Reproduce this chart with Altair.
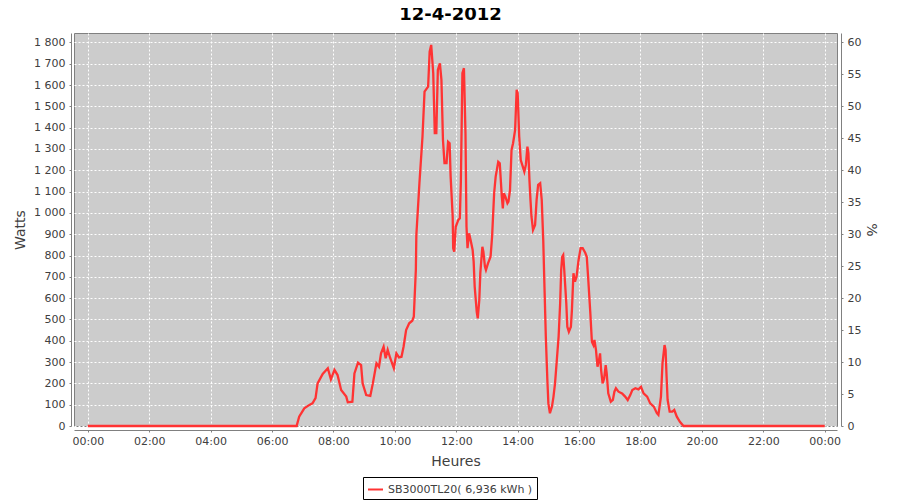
import altair as alt
import pandas as pd

times = ["00:00", "06:48", "06:53", "07:03", "07:13", "07:19", "07:25", "07:29", "07:39", "07:49",
         "07:55", "08:02", "08:08", "08:15", "08:25", "08:28", "08:37", "08:41", "08:48", "08:54",
         "08:57", "09:04", "09:12", "09:17", "09:24", "09:29", "09:33", "09:38", "09:42", "09:46",
         "09:51", "09:58", "10:03", "10:08", "10:13", "10:17", "10:22", "10:28", "10:34", "10:37",
         "10:41", "10:42", "10:48", "10:54", "10:58", "11:05", "11:08", "11:11", "11:15", "11:18",
         "11:21", "11:24", "11:28", "11:31", "11:34", "11:37", "11:41", "11:44", "11:47", "11:49",
         "11:53", "11:54", "11:56", "11:59", "12:04", "12:07", "12:09", "12:12", "12:15", "12:18",
         "12:20", "12:22", "12:25", "12:28", "12:32", "12:34", "12:36", "12:40", "12:42", "12:45",
         "12:47", "12:51", "12:53", "12:56", "12:58", "13:02", "13:07", "13:10", "13:14", "13:17",
         "13:22", "13:25", "13:29", "13:31", "13:33", "13:36", "13:40", "13:42", "13:45", "13:48",
         "13:51", "13:55", "13:58", "14:00", "14:03", "14:06", "14:10", "14:13", "14:16", "14:19",
         "14:21", "14:23", "14:25", "14:27", "14:30", "14:34", "14:37", "14:40", "14:44", "14:47",
         "14:50", "14:52", "14:55", "14:58", "15:00", "15:03", "15:07", "15:10", "15:13", "15:16",
         "15:20", "15:23", "15:25", "15:27", "15:29", "15:31", "15:35", "15:37", "15:40", "15:44",
         "15:46", "15:49", "15:52", "15:55", "15:59", "16:03", "16:07", "16:12", "16:15", "16:18",
         "16:22", "16:25", "16:28", "16:30", "16:33", "16:36", "16:39", "16:41", "16:43", "16:46",
         "16:49", "16:52", "16:54", "16:57", "17:02", "17:06", "17:09", "17:12", "17:17", "17:24",
         "17:30", "17:35", "17:40", "17:44", "17:50", "17:56", "18:01", "18:06", "18:13", "18:19",
         "18:26", "18:32", "18:35", "18:40", "18:43", "18:47", "18:49", "18:51", "18:53", "18:57",
         "19:02", "19:06", "19:11", "19:17", "19:24", "24:00"]

watts = [0, 0, 44, 83, 99, 106, 131, 200, 244, 271,
         219, 263, 239, 169, 138, 111, 114, 247, 297, 286,
         200, 145, 141, 200, 294, 278, 341, 372, 318, 357,
         318, 271, 341, 322, 325, 372, 450, 482, 494, 513,
         732, 896, 1139, 1358, 1569, 1592, 1756, 1788, 1655, 1374,
         1374, 1671, 1702, 1624, 1342, 1233, 1233, 1334, 1327, 1170,
         982, 834, 818, 935, 967, 975, 1147, 1655, 1679, 1374,
         935, 834, 904, 873, 826, 770, 654, 536, 505, 591,
         717, 841, 818, 748, 732, 763, 794, 888, 1092, 1170,
         1240, 1233, 1076, 1021, 1092, 1076, 1045, 1053, 1107, 1295,
         1327, 1389, 1577, 1561, 1358, 1248, 1217, 1193, 1225, 1311,
         1280, 1154, 1061, 982, 920, 943, 1061, 1131, 1139, 1061,
         870, 685, 419, 216, 106, 60, 91, 138, 200, 294,
         419, 576, 732, 794, 802, 732, 576, 466, 442, 466,
         544, 717, 677, 700, 779, 834, 834, 813, 794, 685,
         529, 396, 380, 404, 357, 278, 310, 341, 263, 200,
         223, 286, 247, 153, 114, 122, 161, 177, 161, 153,
         138, 122, 145, 169, 177, 172, 184, 153, 138, 106,
         91, 60, 52, 138, 294, 380, 357, 231, 122, 67,
         67, 75, 44, 20, 0, 0]

series_name = "SB3000TL20( 6,936 kWh )"
title_text = "12-4-2012"
x_ticks = list(range(0, 25, 2))
w_ticks = list(range(0, 1801, 100))
pct_ticks = list(range(0, 61, 5))

hours = [int(t[:2]) + int(t[3:]) / 60 for t in times]
df = pd.DataFrame({"hour": hours, "watts": watts, "serie": [series_name] * len(times)})
df["pct"] = df["watts"] / 30

FONT = "DejaVu Sans"
GREY = "#404040"
AXC = "#808080"

x_enc = alt.X(
    "hour:Q",
    scale=alt.Scale(domain=[-0.45, 24.4], nice=False, zero=False),
    axis=alt.Axis(
        title="Heures", values=x_ticks,
        labelExpr="((datum.value % 24) < 10 ? '0' : '') + (datum.value % 24) + ':00'",
        grid=True, gridColor="white", gridDash=[2, 2], gridWidth=1,
        offset=4, labelPadding=3, titlePadding=8,
    ),
)

line = alt.Chart(df).mark_line(strokeWidth=2.3, interpolate="linear").encode(
    x=x_enc,
    y=alt.Y(
        "watts:Q",
        scale=alt.Scale(domain=[0, 1844], nice=False, zero=True),
        axis=alt.Axis(
            title="Watts", values=w_ticks,
            labelExpr="replace(format(datum.value, ','), ',', ' ')",
            grid=True, gridColor="white", gridDash=[2, 2], gridWidth=1,
            offset=3, labelPadding=4, titlePadding=6,
        ),
    ),
    color=alt.Color(
        "serie:N",
        scale=alt.Scale(range=["#ff3333"]),
        legend=alt.Legend(
            title=None, orient="none", legendX=289, legendY=444,
            strokeColor="black", padding=4, symbolType="stroke",
            symbolSize=225, symbolStrokeWidth=2, labelFontSize=11,
            labelFont=FONT, labelColor=GREY, symbolOffset=0,
        ),
    ),
)

pct = alt.Chart(df).mark_line(opacity=0).encode(
    x=x_enc,
    y=alt.Y(
        "pct:Q",
        scale=alt.Scale(domain=[0, 61.47], nice=False, zero=True),
        axis=alt.Axis(
            title="%", orient="right", values=pct_ticks, grid=False,
            offset=4, labelPadding=4, titlePadding=3,
        ),
    ),
)

chart = (
    alt.layer(line, pct)
    .resolve_scale(y="independent")
    .properties(
        width=763, height=393,
        autosize=alt.AutoSizeParams(type="none"),
        padding={"left": 66, "top": 25, "right": 55, "bottom": 74},
        title=alt.TitleParams(
            title_text, fontSize=18, font=FONT, fontWeight="bold", color="black",
            anchor="middle", dx=-5, offset=9,
        ),
    )
    .configure_view(fill="#cccccc", stroke=AXC, strokeWidth=1)
    .configure_axis(
        domainColor=AXC, tickColor=AXC, tickSize=2,
        labelFont=FONT, labelFontSize=11, labelColor=GREY,
        titleFont=FONT, titleFontSize=14, titleFontWeight="normal", titleColor=GREY,
    )
)

chart.save("out.html", embed_options={"renderer": "svg", "actions": False})
